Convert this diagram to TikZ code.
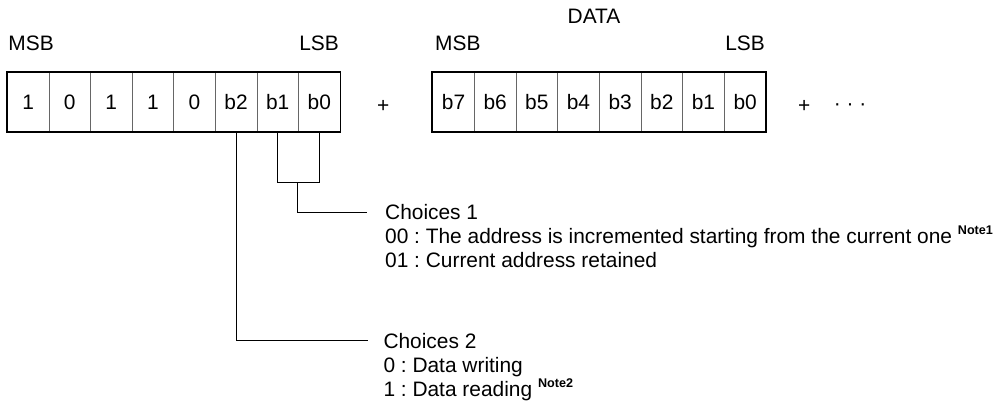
\documentclass[tikz,border=0pt]{standalone}
\usepackage{fontspec}
\setmainfont{Liberation Sans}
\usepackage{tikz}
\usetikzlibrary{positioning}
\frenchspacing

\tikzset{
  txt/.style={inner sep=0pt, font=\fontsize{20.9}{24}\selectfont},
  bitcell/.style={txt, draw=black!60, line width=0.8pt, minimum width=41.6pt, minimum height=59.6pt},
  frame/.style={draw=black, line width=1.8pt},
  link/.style={draw=black, line width=0.9pt},
}
\newcommand{\notemark}[1]{\raisebox{9pt}{\fontsize{12.6}{14}\selectfont\bfseries #1}}

\begin{document}
\begin{tikzpicture}[x=1pt,y=-1pt]
        \useasboundingbox (0,0) rectangle (1002,416);

        \foreach \t [count=\i from 0] in {1,0,1,1,0,b2,b1,b0} {
            \pgfmathtruncatemacro{\k}{7-\i}
            \node[bitcell] (a\k) at (28.1+41.6*\i,102) {\t};
        }
        \draw[frame] (a7.north west) rectangle (a0.south east);

        \foreach \k [count=\i from 0] in {7,6,...,0} {
            \node[bitcell] (d\k) at (453.5+41.66*\i,102) {b\k};
        }
        \draw[frame] (d7.north west) rectangle (d0.south east);

        \node[txt, anchor=base west] (msbA) at (8.3,50) {MSB};
        \node[txt, anchor=base east] (lsbA) at (339,50) {LSB};
        \node[txt, anchor=base west] (msbD) at (435,50) {MSB};
        \node[txt, anchor=base east] (lsbD) at (765,50) {LSB};
        \node[txt, anchor=base] (data) at (594,23.3) {DATA};

        \node[txt] (plusA) at (383.3,106.7) {+};
        \node[txt] (plusD) at (804.3,106.7) {+};
        \node[txt] (dots) at (850,107) {· · ·};

        \node[txt, anchor=base west] (ch1) at (385,219.5) {Choices 1};
        \node[txt, anchor=base west] (ch1a) at ([yshift=-24pt]ch1.base west) {00 : The address is incremented starting from the current one \notemark{Note1}};
        \node[txt, anchor=base west] (ch1b) at ([yshift=-24pt]ch1a.base west) {01 : Current address retained};

        \node[txt, anchor=base west] (ch2) at (383.3,348.2) {Choices 2};
        \node[txt, anchor=base west] (ch2a) at ([yshift=-24pt]ch2.base west) {0 : Data writing};
        \node[txt, anchor=base west] (ch2b) at ([yshift=-24pt]ch2a.base west) {1 : Data reading \notemark{Note2}};

        \coordinate (brk) at (297.3,182.3);
        \draw[link] (a1.south) |- (brk) -| (a0.south);
        \draw[link] (brk) |- ([xshift=-18pt]ch1.west);
        \draw[link] (a2.south) |- ([xshift=-15pt]ch2.west);
    \end{tikzpicture}
\end{document}
